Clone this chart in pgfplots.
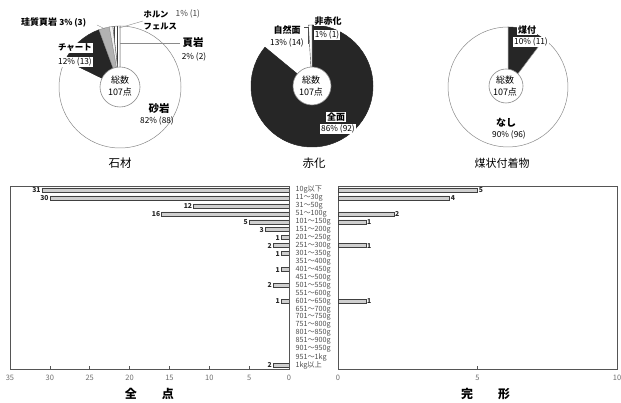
\documentclass[border=0pt]{standalone}
\usepackage{pgfplots}
\pgfplotsset{compat=1.18}
\usepackage{fontspec}
\setmainfont{Noto Sans CJK JP}
\usetikzlibrary{patterns}
\definecolor{dk}{HTML}{262626}
\definecolor{fr}{HTML}{555555}
\definecolor{barfill}{HTML}{CFCFCF}
\definecolor{tk}{HTML}{6E6E6E}
\definecolor{pl}{HTML}{8A8A8A}
\newcommand{\wseg}[6]{\path[#6] (axis cs:#1,#2) -- ++(#4:#3) arc[start angle=#4,end angle=#5,radius=#3] -- cycle;}
\newcommand{\pct}{\fontsize{8.3}{9}\selectfont}
\newcommand{\nm}{\fontsize{9}{10}\selectfont\bfseries}
\begin{document}%
\begin{tikzpicture}
\pgfmathsetmacro{\unitdeg}{360/107}
% 石材: 砂岩 88, チャート 13, 珪質頁岩 3, ホルンフェルス 1, 頁岩 2
\pgfmathsetmacro{\sA}{90-88*\unitdeg}
\pgfmathsetmacro{\sB}{\sA-13*\unitdeg}
\pgfmathsetmacro{\sC}{\sB-3*\unitdeg}
\pgfmathsetmacro{\sD}{\sC-1*\unitdeg}
\pgfmathsetmacro{\sE}{\sD-2*\unitdeg}
% 赤化: 全面 92, 自然面 14, 非赤化 1
\pgfmathsetmacro{\rA}{90-92*\unitdeg}
\pgfmathsetmacro{\rB}{\rA-14*\unitdeg}
\pgfmathsetmacro{\rC}{\rB-1*\unitdeg}
% 煤状付着物: 煤付 11, なし 96
\pgfmathsetmacro{\bA}{90-11*\unitdeg}
\pgfmathsetmacro{\bB}{\bA-96*\unitdeg}
\useasboundingbox (0pt,0pt) rectangle (621pt,403pt);
% ---------- donuts ----------
\begin{axis}[at={(0pt,0pt)},anchor=south west,scale only axis,width=621pt,height=403pt,
  xmin=0,xmax=621,ymin=0,ymax=403,y dir=reverse,hide axis,clip=false,
  xtick=\empty,ytick=\empty]
\addplot[draw=none] coordinates {(0,0)};
% 石材
\wseg{120}{87}{61pt}{90}{\sA}{fill=white,draw=pl,line width=0.5pt}
\wseg{120}{87}{61pt}{\sA}{\sB}{fill=dk,draw=dk,line width=0.5pt}
\wseg{120}{87}{61pt}{\sB}{\sC}{fill=black!30,draw=pl,line width=0.4pt}
\wseg{120}{87}{61pt}{\sC}{\sD}{fill=black!6,draw=pl,line width=0.4pt}
\wseg{120}{87}{61pt}{\sD}{\sE}{pattern=vertical lines,pattern color=black!75,draw=black!60,line width=0.4pt}
\path[fill=white,draw=pl,line width=0.6pt] (axis cs:120,87) circle[radius=20pt];
\node[font=\fontsize{9}{10}\selectfont] at (axis cs:120,80) {総数};
\node[font=\fontsize{9}{10}\selectfont] at (axis cs:120,92) {107点};
\draw[pl,line width=0.4pt] (axis cs:97,25) -- (axis cs:105,29);
\draw[pl,line width=0.4pt] (axis cs:119,28) -- (axis cs:143,21);
\draw[pl,line width=0.4pt] (axis cs:120,43) -- (axis cs:180,43);
\node[anchor=west,inner sep=1pt] at (axis cs:20,23) {\nm 珪質頁岩 \pct 3\% (3)};
\node[font=\fontsize{8.3}{9}\selectfont\bfseries,anchor=west,inner sep=0.5pt] at (axis cs:143,14) {ホルン};
\node[font=\fontsize{8.3}{9}\selectfont\bfseries,anchor=west,inner sep=0.5pt] at (axis cs:143,27) {フェルス};
\node[font=\pct,anchor=west,inner sep=0.5pt,text=black!75] at (axis cs:175,14) {1\% (1)};
\node[font=\fontsize{10.5}{11}\selectfont\bfseries,fill=white,inner sep=1pt] at (axis cs:193,43) {頁岩};
\node[font=\pct] at (axis cs:194,57) {2\% (2)};
\node[font=\fontsize{8.5}{9}\selectfont\bfseries,fill=white,inner sep=1pt] at (axis cs:75,48) {チャート};
\node[font=\pct,fill=white,inner sep=1pt] at (axis cs:75,62) {12\% (13)};
\node[font=\fontsize{10.5}{11}\selectfont\bfseries] at (axis cs:159,109) {砂岩};
\node[font=\pct] at (axis cs:157,121) {82\% (88)};
\node[font=\fontsize{11.5}{12}\selectfont] at (axis cs:120,163) {石材};
% 赤化
\wseg{312}{86}{61pt}{90}{\rA}{fill=dk,draw=dk,line width=0.5pt}
\wseg{312}{86}{61pt}{\rB}{\rC}{fill=white,draw=black!70,line width=0.4pt}
\path[fill=white,draw=pl,line width=0.6pt] (axis cs:312,86) circle[radius=19pt];
\node[font=\fontsize{9}{10}\selectfont] at (axis cs:311,80) {総数};
\node[font=\fontsize{9}{10}\selectfont] at (axis cs:311,92) {107点};
\draw[black!70,line width=0.5pt] (axis cs:304,27) -- (axis cs:308,27) -- (axis cs:308,44);
\node[font=\nm,fill=white,inner sep=1pt] at (axis cs:328,21) {非赤化};
\node[font=\pct,fill=white,inner sep=1pt] at (axis cs:327,35) {1\% (1)};
\node[font=\nm] at (axis cs:287,30) {自然面};
\node[font=\pct] at (axis cs:287,43) {13\% (14)};
\node[font=\nm,fill=white,inner sep=1pt] at (axis cs:336,117) {全面};
\node[font=\pct,fill=white,inner sep=1pt] at (axis cs:338,129) {86\% (92)};
\node[font=\fontsize{11.5}{12}\selectfont] at (axis cs:314,163) {赤化};
% 煤状付着物
\wseg{508}{87}{60pt}{90}{\bA}{fill=dk,draw=dk,line width=0.5pt}
\wseg{508}{87}{60pt}{\bA}{\bB}{fill=white,draw=pl,line width=0.5pt}
\path[fill=white,draw=pl,line width=0.6pt] (axis cs:506,86) circle[radius=17pt];
\node[font=\fontsize{9}{10}\selectfont] at (axis cs:505,80) {総数};
\node[font=\fontsize{9}{10}\selectfont] at (axis cs:505,92) {107点};
\node[font=\nm,fill=white,inner sep=1pt] at (axis cs:527,30) {煤付};
\node[font=\pct,fill=white,inner sep=1pt] at (axis cs:531,42) {10\% (11)};
\node[font=\fontsize{10}{11}\selectfont\bfseries] at (axis cs:506,123) {なし};
\node[font=\pct] at (axis cs:509,135) {90\% (96)};
\node[font=\fontsize{11}{12}\selectfont] at (axis cs:502,163) {煤状付着物};
\end{axis}
% ---------- left bars: 全点 ----------
\begin{axis}[at={(10pt,34pt)},anchor=south west,scale only axis,width=279pt,height=183pt,
  xbar,bar width=4pt,x dir=reverse,xmin=0,xmax=35,ymin=-0.5,ymax=22.5,y dir=reverse,
  axis line style={fr,line width=0.8pt},
  xtick={0,5,...,35},xtick pos=left,tick align=inside,major tick length=2.5pt,
  xtick style={fr,line width=0.6pt},
  ytick={0,...,22},ytick style={draw=none},yticklabel pos=right,
  yticklabels={10g以下,11〜30g,31〜50g,51〜100g,101〜150g,151〜200g,201〜250g,251〜300g,301〜350g,351〜400g,401〜450g,451〜500g,501〜550g,551〜600g,601〜650g,651〜700g,701〜750g,751〜800g,801〜850g,851〜900g,901〜950g,951〜1kg,1kg以上},
  x tick label style={font=\fontsize{7.5}{8}\selectfont,text=tk,yshift=-3pt},
  y tick label style={font=\fontsize{7.2}{7.5}\selectfont,text=black!70,xshift=3pt},
  /pgf/number format/assume math mode=true,
  xlabel={全\hspace{25pt}点},xlabel style={font=\fontsize{12}{13}\selectfont\bfseries},
  nodes near coords,
  every node near coord/.append style={anchor=east,font=\fontsize{6.8}{7}\selectfont\bfseries,inner sep=1pt,text=black!85}]
\addplot[fill=barfill,draw=black!75,line width=0.6pt] coordinates {
(31,0) (30,1) (12,2) (16,3) (5,4) (3,5) (1,6) (2,7) (1,8) (1,10) (2,12) (1,14) (2,22)};
\end{axis}
% ---------- right bars: 完形 ----------
\begin{axis}[at={(338pt,34pt)},anchor=south west,scale only axis,width=279pt,height=183pt,
  xbar,bar width=4pt,xmin=0,xmax=10,ymin=-0.5,ymax=22.5,y dir=reverse,
  axis line style={fr,line width=0.8pt},
  xtick={0,5,10},xtick pos=left,tick align=inside,major tick length=2.5pt,
  xtick style={fr,line width=0.6pt},
  ytick=\empty,
  x tick label style={font=\fontsize{7.5}{8}\selectfont,text=tk,yshift=-3pt},
  /pgf/number format/assume math mode=true,
  xlabel={完\hspace{25pt}形},xlabel style={font=\fontsize{12}{13}\selectfont\bfseries,xshift=8pt},
  nodes near coords,
  every node near coord/.append style={anchor=west,font=\fontsize{6.8}{7}\selectfont\bfseries,inner sep=1pt,text=black!85}]
\addplot[fill=barfill,draw=black!75,line width=0.6pt] coordinates {
(5,0) (4,1) (2,3) (1,4) (1,7) (1,14)};
\end{axis}
\end{tikzpicture}%
\end{document}
